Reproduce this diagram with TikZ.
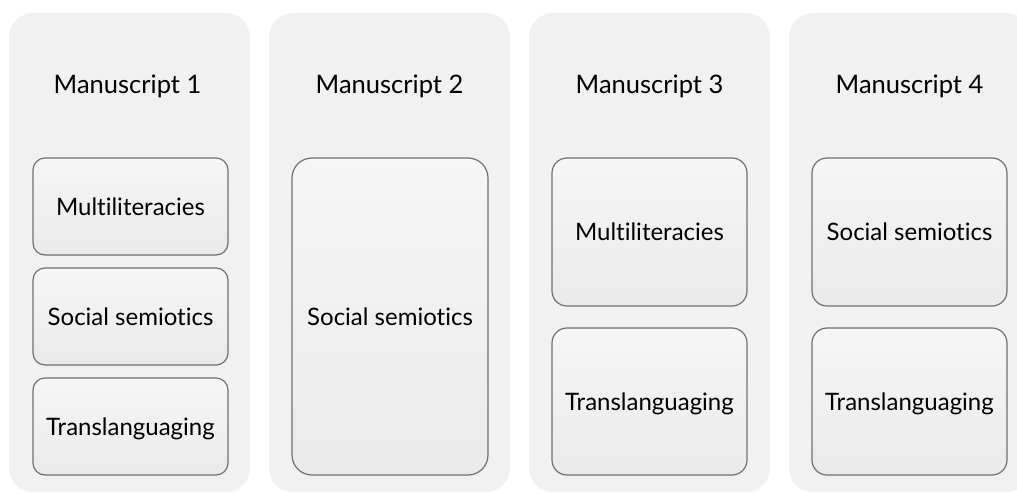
\documentclass[tikz,border=0pt]{standalone}
\usepackage{fontspec}
\setmainfont{Lato}[Ligatures={NoCommon}]
\definecolor{panelgray}{HTML}{F1F1F1}
\definecolor{boxtop}{HTML}{F6F6F6}
\definecolor{boxbot}{HTML}{EAEAEA}
\definecolor{boxline}{HTML}{707070}
\begin{document}
\begin{tikzpicture}[x=1pt,y=-1pt,
  panel/.style={fill=panelgray, rounded corners=24pt, minimum width=241pt, minimum height=479pt, inner sep=0pt},
  title/.style={font=\fontsize{25.5}{30}\selectfont, text=black, inner sep=0pt, text height=18pt, text depth=0pt},
  topic/.style={draw=boxline, line width=1.2pt, top color=boxtop, bottom color=boxbot,
     minimum width=195pt, inner sep=0pt, font=\fontsize{24}{28}\selectfont, text=black,
     text height=17.5pt, text depth=0pt},
]
\useasboundingbox (0,0) rectangle (1017,493);
\clip (0,0) rectangle (1017,493);
% panels
\node[panel] (p1) at (129.5,252.5) {};
\node[panel] (p2) at (389.5,252.5) {};
\node[panel] (p3) at (649.5,252.5) {};
\node[panel] (p4) at (909.5,252.5) {};
% titles
\node[title] (t1) at (127.5,84.5) {Manuscript 1};
\node[title] (t2) at (389.5,84.5) {Manuscript 2};
\node[title] (t3) at (649.5,84.5) {Manuscript 3};
\node[title] (t4) at (909.5,84.5) {Manuscript 4};
% column 1
\node[topic, minimum height=97pt, rounded corners=12pt] (a1) at (130.5,206.5) {Multiliteracies};
\node[topic, minimum height=97pt, rounded corners=12pt] (a2) at (130.5,316.5) {Social semiotics};
\node[topic, minimum height=97pt, rounded corners=12pt] (a3) at (130.5,426.5) {Translanguaging};
% column 2
\node[topic, minimum width=196pt, minimum height=317pt, rounded corners=20pt] (b1) at (390,316.5) {Social semiotics};
% column 3
\node[topic, minimum height=148pt, rounded corners=15pt] (c1) at (649.5,232) {Multiliteracies};
\node[topic, minimum height=147pt, rounded corners=15pt] (c2) at (649.5,401.5) {Translanguaging};
% column 4
\node[topic, minimum height=148pt, rounded corners=15pt] (d1) at (909.5,232) {Social semiotics};
\node[topic, minimum height=147pt, rounded corners=15pt] (d2) at (909.5,401.5) {Translanguaging};
\end{tikzpicture}
\end{document}
